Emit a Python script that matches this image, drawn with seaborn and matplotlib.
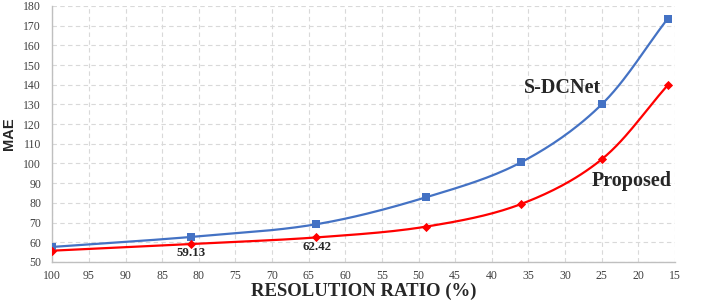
import numpy as np
import pandas as pd
import matplotlib
matplotlib.use("Agg")
import matplotlib.pyplot as plt
import seaborn as sns

# ── Data ─────────────────────────────────────────────────────────────────────
resolution = [100, 81, 64, 49, 36, 25, 16]
mae_sdcnet = [57.6, 62.7, 69.1, 82.8, 100.6, 130.0, 173.5]
mae_proposed = [55.7, 59.13, 62.42, 67.9, 79.4, 102.1, 139.7]
x_ticks = list(range(100, 14, -5))
y_ticks = list(range(50, 181, 10))

BLUE = "#4472C4"
RED = "#FF0000"

sns.set_theme(style="white")
plt.rcParams["font.family"] = ["Liberation Serif", "DejaVu Serif"]


def smooth(xs, ys, n=30):
    # Excel style "smoothed line": Catmull-Rom spline through the points
    xs, ys = np.asarray(xs, float), np.asarray(ys, float)
    px = np.concatenate([[2 * xs[0] - xs[1]], xs, [2 * xs[-1] - xs[-2]]])
    py = np.concatenate([[2 * ys[0] - ys[1]], ys, [2 * ys[-1] - ys[-2]]])
    t = np.linspace(0, 1, n)
    outx, outy = [], []
    for i in range(1, len(px) - 2):
        for p, out in ((px, outx), (py, outy)):
            p0, p1, p2, p3 = p[i - 1], p[i], p[i + 1], p[i + 2]
            out.extend(0.5 * ((2 * p1) + (-p0 + p2) * t
                              + (2 * p0 - 5 * p1 + 4 * p2 - p3) * t ** 2
                              + (-p0 + 3 * p1 - 3 * p2 + p3) * t ** 3))
    return np.array(outx), np.array(outy)


fig = plt.figure(figsize=(7.06, 3.0), dpi=100)
ax = fig.add_axes([0.074, 0.127, 0.882, 0.853])

for ys, color, marker, ms in ((mae_sdcnet, BLUE, "s", 30), (mae_proposed, RED, "D", 22)):
    sx, sy = smooth(resolution, ys)
    curve = pd.DataFrame({"x": sx, "y": sy})
    sns.lineplot(data=curve, x="x", y="y", sort=False, color=color, lw=1.6, ax=ax)
    pts = pd.DataFrame({"x": resolution, "y": ys})
    sns.scatterplot(data=pts, x="x", y="y", color=color, marker=marker, s=ms,
                    linewidth=0, ax=ax, zorder=3)

ax.set_xlim(100, 15)
ax.set_ylim(50, 180)
ax.set_xticks(x_ticks)
ax.set_yticks(y_ticks)
ax.tick_params(axis="both", labelsize=8.5, colors="#404040", length=0)
ax.tick_params(axis="x", pad=6)
ax.tick_params(axis="y", pad=8)
ax.grid(True, color="#D9D9D9", linestyle=(0, (4, 3)), linewidth=0.8)
for side in ("top", "right"):
    ax.spines[side].set_visible(False)
for side in ("left", "bottom"):
    ax.spines[side].set_color("#BFBFBF")
    ax.spines[side].set_linewidth(1.0)

ax.set_xlabel("RESOLUTION RATIO (%)", fontsize=13.5, fontweight="bold", labelpad=0)
ax.set_ylabel("MAE", fontsize=10.5, fontweight="bold", family=["Liberation Sans"], labelpad=5)

ax.text(30.3, 138.3, "S-DCNet", fontsize=14.5, fontweight="bold", ha="center", va="center")
ax.text(20.9, 91.1, "Proposed", fontsize=14.5, fontweight="bold", ha="center", va="center")
ax.text(81, 54.4, "59.13", fontsize=9.3, fontweight="bold", ha="center", va="center")
ax.text(63.9, 57.4, "62.42", fontsize=9.3, fontweight="bold", ha="center", va="center")

fig.savefig("out.png", dpi=100)
